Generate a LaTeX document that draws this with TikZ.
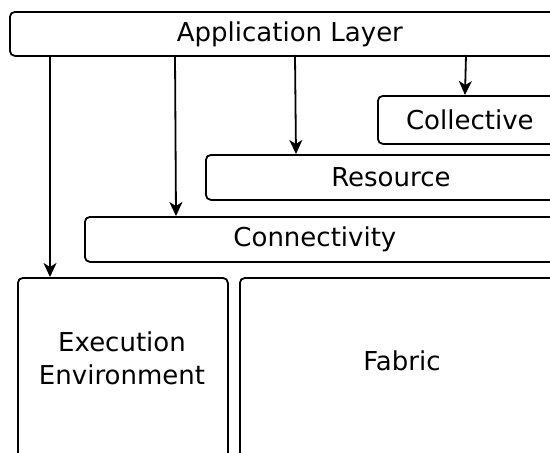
\documentclass[tikz,border=0pt]{standalone}
\usepackage{fontspec}
\setmainfont{DejaVu Sans}
\usetikzlibrary{arrows.meta}
\begin{document}
\begin{tikzpicture}[x=1pt,y=-1pt,
  box/.style={draw=black, line width=1.8pt, rounded corners=5pt, fill=white,
    anchor=north west, inner sep=0pt, font=\fontsize{26}{33}\selectfont},
  lbl/.style={inner sep=0pt, align=center, font=\fontsize{26}{33}\selectfont},
  arr/.style={line width=1.8pt, -{Stealth[length=14pt,width=13pt,inset=4pt]}}]
\useasboundingbox (0,0) rectangle (550,453);
\clip (0,0) rectangle (550,453);
\node[box, minimum width=560, minimum height=44] (app) at (9,11) {Application Layer};
\node[box, minimum width=184, minimum height=48] (coll) at (377,95) {Collective};
\node[box, minimum width=370, minimum height=45] (res) at (205,154) {Resource};
\node[box, minimum width=490, minimum height=45] (conn) at (84,216) {\hspace*{-30pt}Connectivity};
\node[box, minimum width=210, minimum height=200] (exec) at (17,277) {};
\node[box, minimum width=326, minimum height=200] (fab) at (239,277) {};
\node[lbl] (execlbl) at (122,358) {Execution\\Environment};
\node[lbl] (fablbl) at (402,361) {Fabric};
\coordinate (s1) at (50,55);
\coordinate (s2) at (175,55);
\coordinate (s3) at (295,55);
\coordinate (s4) at (466,55);
\draw[arr] (s1) -- (s1 |- exec.north);
\draw[arr] (s2) -- ([xshift=1pt]s2 |- conn.north);
\draw[arr] (s3) -- ([xshift=1pt]s3 |- res.north);
\draw[arr] (s4) -- ([xshift=-1pt]s4 |- coll.north);
\end{tikzpicture}
\end{document}
